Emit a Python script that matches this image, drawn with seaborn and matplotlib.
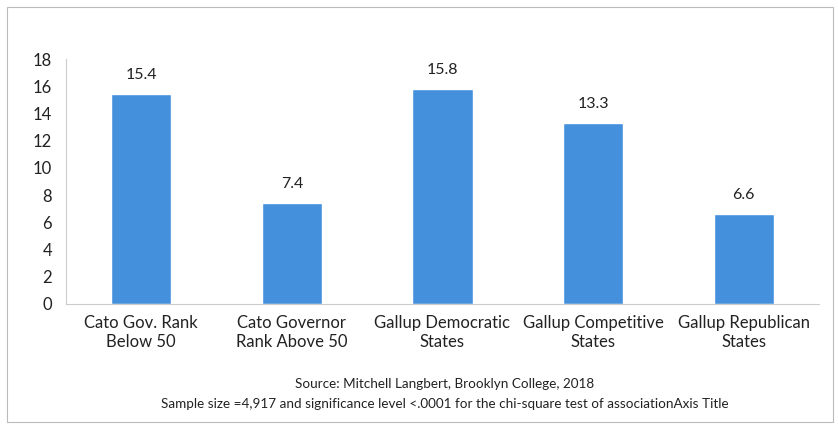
import pandas as pd
import seaborn as sns
import matplotlib.pyplot as plt
from matplotlib.patches import Rectangle

# chart values
categories = ['Cato Gov. Rank\nBelow 50', 'Cato Governor\nRank Above 50',
              'Gallup Democratic\nStates', 'Gallup Competitive\nStates',
              'Gallup Republican\nStates']
values = [15.4, 7.4, 15.8, 13.3, 6.6]
y_ticks = [0, 2, 4, 6, 8, 10, 12, 14, 16, 18]
source_lines = ['Source: Mitchell Langbert, Brooklyn College, 2018',
                'Sample size =4,917 and significance level <.0001 for the chi-square test of associationAxis Title']

df = pd.DataFrame({'category': categories, 'value': values})

sns.set_style('white')
plt.rcParams['font.family'] = ['Lato', 'DejaVu Sans']

fig = plt.figure(figsize=(8.38, 4.30), dpi=100)
ax = fig.add_axes([66 / 838, 1 - 304 / 430, (819 - 66) / 838, (304 - 59) / 430])

sns.barplot(data=df, x='category', y='value', color='#4490DC', width=0.4,
            saturation=1, ax=ax)

# value labels above bars
for i, v in enumerate(values):
    ax.text(i, v + 0.9, f'{v:.1f}', ha='center', va='bottom', fontsize=11.5, color='#222222')

ax.set_ylim(0, 18)
ax.set_xlim(-0.5, len(categories) - 0.5)
ax.set_yticks(y_ticks)
ax.set_xlabel('')
ax.set_ylabel('')
ax.tick_params(axis='y', labelsize=12, length=4, color='#bbbbbb', labelcolor='#222222', pad=6)
ax.tick_params(axis='x', labelsize=12, length=0, labelcolor='#222222', pad=8)
for lbl in ax.get_xticklabels():
    lbl.set_linespacing(1.25)

# boundary ticks between categories on the x axis
ax.set_xticks([i - 0.5 for i in range(len(categories) + 1)], minor=True)
ax.tick_params(axis='x', which='minor', length=4, color='#bbbbbb')

for side in ['top', 'right']:
    ax.spines[side].set_visible(False)
for side in ['left', 'bottom']:
    ax.spines[side].set_color('#cccccc')
    ax.spines[side].set_linewidth(0.8)

fig.text(445 / 838, 1 - 384 / 430, source_lines[0], ha='center', va='center',
         fontsize=9.7, color='#222222')
fig.text(445 / 838, 1 - 404 / 430, source_lines[1], ha='center', va='center',
         fontsize=9.7, color='#222222')

# outer chart frame
fig.patches.append(Rectangle((7 / 838, 1 - 422 / 430), 826 / 838, 415 / 430,
                             transform=fig.transFigure, fill=False,
                             edgecolor='#bbbbbb', linewidth=0.8))

fig.savefig('out.png', dpi=100)
